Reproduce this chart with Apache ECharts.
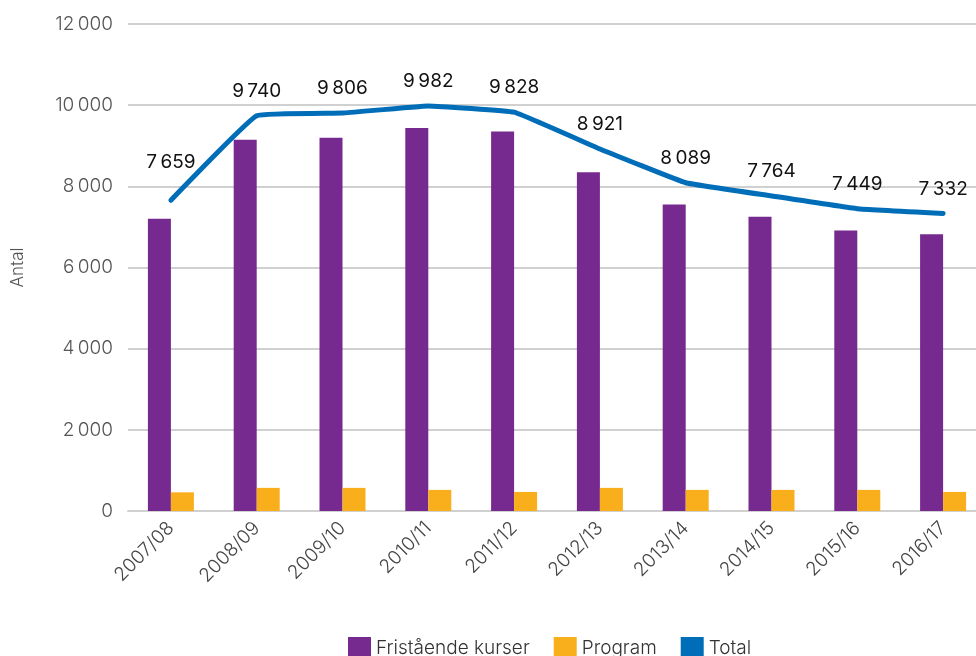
<!DOCTYPE html>
<html>
<head>
<meta charset="utf-8">
<script src="https://cdn.jsdelivr.net/npm/echarts@6/dist/echarts.min.js"></script>
<style>
  html, body { margin: 0; padding: 0; background: #fff; }
  #chart { width: 976px; height: 656px; }
</style>
</head>
<body>
<div id="chart"></div>
<script>
  const years = ['2007/08', '2008/09', '2009/10', '2010/11', '2011/12', '2012/13', '2013/14', '2014/15', '2015/16', '2016/17']
  const fristaende = [7200, 9150, 9200, 9440, 9350, 8350, 7550, 7250, 6910, 6820]
  const program = [460, 570, 570, 520, 470, 570, 520, 520, 520, 470]
  const total = [7659, 9740, 9806, 9982, 9828, 8921, 8089, 7764, 7449, 7332]
  const yTicks = [0, 2000, 4000, 6000, 8000, 10000, 12000]

  const fontFamily = 'Inter, "Noto Sans", sans-serif'
  // thin space as thousands separator, like the original
  const fmt = v => String(v).replace(/\B(?=(\d{3})+(?!\d))/g, '\u2009')

  const chart = echarts.init(document.getElementById('chart'))

  // first label sits higher in the original
  const totalData = total.map((v, i) => i === 0
    ? { value: v, label: { distance: 28 } }
    : v)

  chart.setOption({
    animation: false,
    textStyle: { fontFamily },
    grid: {
      left: 128,
      top: 24,
      bottom: 145,
      width: 858,
      outerBoundsMode: 'none'
    },
    legend: {
      bottom: -9,
      left: 343,
      itemWidth: 23,
      itemHeight: 23,
      itemGap: 24,
      icon: 'rect',
      textStyle: { fontSize: 19, color: '#333', fontWeight: 300 },
      data: ['Fristående kurser', 'Program', 'Total']
    },
    xAxis: {
      type: 'category',
      data: years,
      axisTick: { show: false },
      axisLine: { lineStyle: { color: '#d0d0d0', width: 2 } },
      axisLabel: {
        rotate: 45,
        fontSize: 19,
        color: '#444',
        fontWeight: 300,
        margin: 14
      }
    },
    yAxis: {
      type: 'value',
      min: yTicks[0],
      max: yTicks[yTicks.length - 1],
      interval: 2000,
      name: 'Antal',
      nameLocation: 'middle',
      nameGap: 102,
      nameRotate: 90,
      nameTextStyle: { fontSize: 17, color: '#555', fontWeight: 300 },
      axisLine: { show: false },
      axisTick: { show: false },
      splitLine: { lineStyle: { color: '#d0d0d0', width: 2 } },
      axisLabel: {
        fontSize: 19,
        color: '#555',
        fontWeight: 300,
        margin: 15,
        formatter: fmt
      }
    },
    series: [
      {
        name: 'Fristående kurser',
        type: 'bar',
        data: fristaende,
        barWidth: 23,
        barGap: '0%',
        itemStyle: { color: '#76298e' }
      },
      {
        name: 'Program',
        type: 'bar',
        data: program,
        barWidth: 23,
        barGap: '0%',
        itemStyle: { color: '#f9ae1b' }
      },
      {
        name: 'Total',
        type: 'line',
        data: totalData,
        smooth: 0.08,
        symbol: 'circle',
        symbolSize: 0,
        showSymbol: true,
        lineStyle: { color: '#006db8', width: 5, cap: 'round' },
        itemStyle: { color: '#006db8' },
        label: {
          show: true,
          position: 'top',
          distance: 15,
          fontSize: 19,
          color: '#111',
          fontWeight: 400,
          formatter: p => fmt(p.value)
        }
      }
    ]
  })
</script>
</body>
</html>
